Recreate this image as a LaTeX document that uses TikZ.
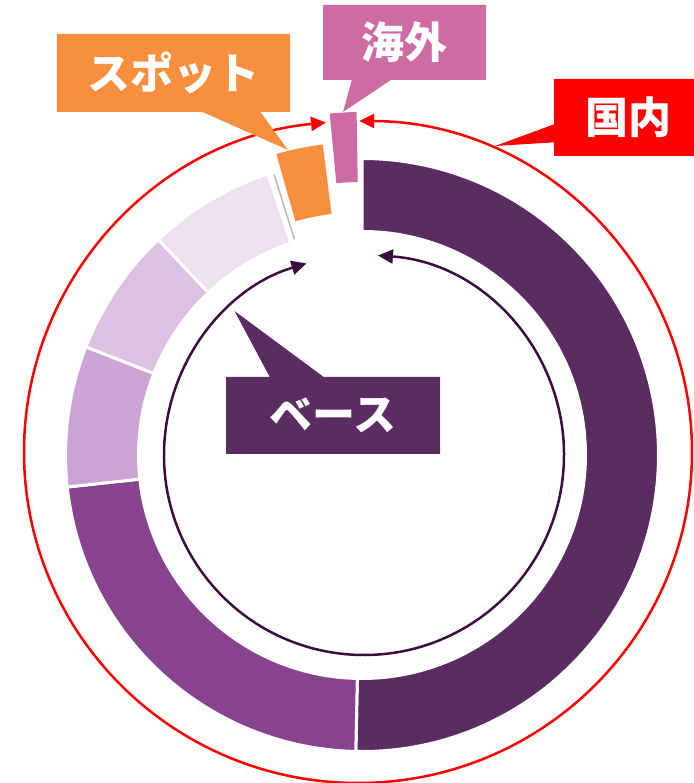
\documentclass[tikz,border=0pt]{standalone}
\usepackage{fontspec}
\newfontfamily\jpfont{Noto Sans CJK JP}
\usetikzlibrary{arrows.meta,shapes.callouts}
\definecolor{basecol}{HTML}{5B2C62}
\definecolor{midcol}{HTML}{87438F}
\definecolor{lightA}{HTML}{CBA3D5}
\definecolor{lightB}{HTML}{DCC1E2}
\definecolor{lightC}{HTML}{EEDFF1}
\definecolor{spotcol}{HTML}{F88F3F}
\definecolor{kaigaicol}{HTML}{CF6BA3}
\definecolor{ringcol}{HTML}{3D0C3F}

\begin{document}
\begin{tikzpicture}[x=1pt,y=1pt,
    sector/.style={draw=white,line width=3pt},
    tag/.style={rectangle callout,text=white,inner sep=0pt,
      font=\jpfont\bfseries\fontsize{43}{50}\selectfont},
    both tips/.style={{Triangle[length=15pt,width=14pt]}-{Triangle[length=15pt,width=14pt]}}]
    \useasboundingbox (-362,-328) rectangle (331,455);

    \fill[basecol,sector] (90:223.5) arc[start angle=90,end angle=-91.2,radius=223.5]
      -- (-91.2:296.5) arc[start angle=-91.2,end angle=90,radius=296.5] -- cycle;
    \fill[midcol,sector] (268.8:223.5) arc[start angle=268.8,end angle=186.2,radius=223.5]
      -- (186.2:296.5) arc[start angle=186.2,end angle=268.8,radius=296.5] -- cycle;
    \fill[lightA,sector] (186.2:223.5) arc[start angle=186.2,end angle=158.6,radius=223.5]
      -- (158.6:296.5) arc[start angle=158.6,end angle=186.2,radius=296.5] -- cycle;
    \fill[lightB,sector] (158.6:223.5) arc[start angle=158.6,end angle=133.4,radius=223.5]
      -- (133.4:296.5) arc[start angle=133.4,end angle=158.6,radius=296.5] -- cycle;
    \fill[lightC,sector] (133.4:223.5) arc[start angle=133.4,end angle=108.5,radius=223.5]
      -- (108.5:296.5) arc[start angle=108.5,end angle=133.4,radius=296.5] -- cycle;
    \draw[gray!55,line width=1.5pt] (107.4:226) -- (107.4:294);
    \fill[spotcol] (105.9:243) arc[start angle=105.9,end angle=97.2,radius=243]
      -- (97.2:313) arc[start angle=97.2,end angle=105.9,radius=313] -- cycle;
    \fill[kaigaicol] (95.4:273) arc[start angle=95.4,end angle=90.9,radius=273]
      -- (90.9:343) arc[start angle=90.9,end angle=95.4,radius=343] -- cycle;

    \draw[red,line width=2.5pt,both tips] (-4,3) ++(89.8:334 and 331)
      arc[start angle=89.8,end angle=-264.5,x radius=334,y radius=331];
    \draw[ringcol,line width=2.5pt,both tips] (2,0) ++(86:200)
      arc[start angle=86,end angle=-253.3,radius=200];

    \coordinate (spot tip) at (-74,305);
    \coordinate (kaigai tip) at (-19,343);
    \coordinate (kokunai tip) at (133,309);
    \coordinate (base tip) at (-127.5,144);

    \node[tag,fill=spotcol,minimum width=233,minimum height=78,
      callout absolute pointer={(spot tip)},callout pointer width=58] (spot) at (-188.5,382) {スポット};
    \node[tag,fill=kaigaicol,minimum width=163,minimum height=75,
      callout absolute pointer={(kaigai tip)},callout pointer width=39] (kaigai) at (42.5,412.5) {海外};
    \node[tag,fill=red,minimum width=148,minimum height=77,
      callout absolute pointer={(kokunai tip)},callout pointer width=18] (kokunai) at (266,337.5) {国内};
    \node[tag,fill=basecol,minimum width=214,minimum height=77,
      callout absolute pointer={(base tip)},callout pointer width=54] (base) at (-29,39.5) {ベース};
\end{tikzpicture}
\end{document}
